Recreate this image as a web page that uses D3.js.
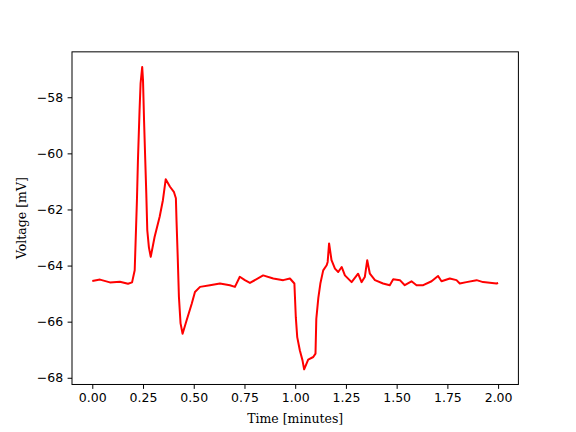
<!DOCTYPE html>
<html>
<head>
<meta charset="utf-8">
<script src="https://cdn.jsdelivr.net/npm/d3@7"></script>
<style>
  html, body { margin: 0; padding: 0; background: #fff; }
  svg { display: block; }
  .tick text { font-family: "DejaVu Sans", sans-serif; font-size: 12.5px; fill: #000; }
  .lbl { font-family: "DejaVu Serif", serif; font-size: 12.5px; fill: #000; }
</style>
</head>
<body>
<svg id="chart" width="576" height="432"></svg>
<script>
// Time in minutes
const timeMin = [
  0.000, 0.038, 0.087, 0.136, 0.176, 0.196, 0.209, 0.220, 0.225, 0.233,
  0.238, 0.246, 0.250, 0.255, 0.261, 0.266, 0.271, 0.279, 0.288, 0.307,
  0.332, 0.348, 0.362, 0.383, 0.402, 0.412, 0.415, 0.421, 0.427, 0.435,
  0.445, 0.465, 0.490, 0.506, 0.531, 0.580, 0.629, 0.678, 0.703, 0.727,
  0.752, 0.777, 0.842, 0.892, 0.941, 0.974, 0.996, 1.003, 1.010, 1.023,
  1.036, 1.044, 1.064, 1.089, 1.100, 1.104, 1.114, 1.124, 1.138, 1.155,
  1.160, 1.167, 1.179, 1.196, 1.212, 1.229, 1.245, 1.278, 1.310, 1.327,
  1.343, 1.355, 1.368, 1.393, 1.433, 1.466, 1.483, 1.516, 1.540, 1.573,
  1.598, 1.631, 1.672, 1.704, 1.721, 1.762, 1.795, 1.811, 1.844, 1.894,
  1.926, 1.992, 2.000
];
// Membrane voltage in mV
const voltage = [
  -64.55, -64.50, -64.60, -64.58, -64.65, -64.60, -64.17, -61.67, -60.24, -58.45,
  -57.50, -56.92, -57.40, -58.80, -60.24, -61.40, -62.74, -63.35, -63.69, -62.98,
  -62.26, -61.67, -60.92, -61.19, -61.37, -61.60, -62.38, -63.69, -65.12, -66.06,
  -66.43, -65.95, -65.36, -64.94, -64.76, -64.70, -64.64, -64.70, -64.76, -64.40,
  -64.52, -64.62, -64.35, -64.46, -64.52, -64.46, -64.64, -65.84, -66.55, -67.03,
  -67.38, -67.70, -67.35, -67.26, -67.14, -65.90, -65.15, -64.64, -64.17, -63.99,
  -63.87, -63.21, -63.81, -64.11, -64.23, -64.05, -64.35, -64.59, -64.29, -64.59,
  -64.41, -63.81, -64.29, -64.52, -64.64, -64.70, -64.49, -64.52, -64.70, -64.56,
  -64.70, -64.70, -64.56, -64.37, -64.56, -64.46, -64.52, -64.64, -64.59, -64.52,
  -64.59, -64.64, -64.62
];
const xTicks = [0.00, 0.25, 0.50, 0.75, 1.00, 1.25, 1.50, 1.75, 2.00];
const yTicks = [-68, -66, -64, -62, -60, -58];
const xLabel = "Time [minutes]";
const yLabel = "Voltage [mV]";

(function () {
const mLeft = 72, mRight = 518.4, mTop = 51.84, mBottom = 384.48;

const data = timeMin.map((t, i) => ({ t, v: voltage[i] }));

const tExt = d3.extent(timeMin), vExt = d3.extent(voltage);
const tPad = (tExt[1] - tExt[0]) * 0.05, vPad = (vExt[1] - vExt[0]) * 0.05;

const x = d3.scaleLinear().domain([tExt[0] - tPad, tExt[1] + tPad]).range([mLeft, mRight]);
const y = d3.scaleLinear().domain([vExt[0] - vPad, vExt[1] + vPad]).range([mBottom, mTop]);

const svg = d3.select("#chart");

const line = d3.line().x(d => x(d.t)).y(d => y(d.v));
svg.append("path")
  .datum(data)
  .attr("d", line)
  .attr("fill", "none")
  .attr("stroke", "#ff0000")
  .attr("stroke-width", 2)
  .attr("stroke-linejoin", "round");

const fmtX = d3.format(".2f");
const fmtY = d => d3.format("d")(d).replace("-", "\u2212");

const xAxis = svg.append("g")
  .attr("transform", `translate(0,${mBottom})`)
  .call(d3.axisBottom(x).tickValues(xTicks).tickFormat(fmtX).tickSize(4.4).tickPadding(4.4));
const yAxis = svg.append("g")
  .attr("transform", `translate(${mLeft},0)`)
  .call(d3.axisLeft(y).tickValues(yTicks).tickFormat(fmtY).tickSize(4.4).tickPadding(4.4));

[xAxis, yAxis].forEach(g => {
  g.select(".domain").remove();
  g.selectAll(".tick line").attr("stroke", "#000").attr("stroke-width", 1);
  g.attr("font-family", null).attr("font-size", null);
});

svg.append("rect")
  .attr("x", mLeft).attr("y", mTop)
  .attr("width", mRight - mLeft).attr("height", mBottom - mTop)
  .attr("fill", "none").attr("stroke", "#000").attr("stroke-width", 1);

svg.append("text").attr("class", "lbl")
  .attr("x", (mLeft + mRight) / 2).attr("y", 423)
  .attr("text-anchor", "middle")
  .text(xLabel);

svg.append("text").attr("class", "lbl")
  .attr("transform", `translate(26,${(mTop + mBottom) / 2}) rotate(-90)`)
  .attr("text-anchor", "middle")
  .text(yLabel);
})();
</script>
</body>
</html>
